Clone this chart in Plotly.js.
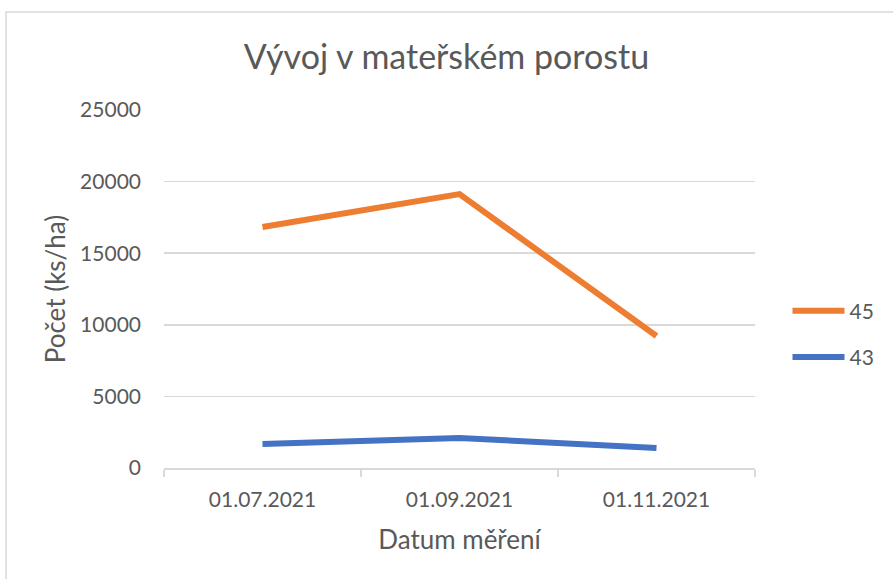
<!DOCTYPE html>
<html>
<head>
<meta charset="utf-8">
<script src="https://cdn.plot.ly/plotly-3.0.1.min.js"></script>
<style>html,body{margin:0;padding:0;background:#fff;}#chart{width:893px;height:579px;}</style>
</head>
<body>
<div id="chart"></div>
<script>
const categories = ["01.07.2021", "01.09.2021", "01.11.2021"];
const series45 = [16830, 19130, 9220];
const series43 = [1680, 2100, 1400];
const seriesNames = ["45", "43"];
const yTicks = [0, 5000, 10000, 15000, 20000, 25000];

const font = "Lato, 'Open Sans', sans-serif";
const grey = "#595959";

const traces = [
  {x: categories, y: series45, name: seriesNames[0], type: "scatter", mode: "lines",
   line: {color: "#ED7D31", width: 6}, legendgroup: "a"},
  {x: categories, y: series43, name: seriesNames[1], type: "scatter", mode: "lines",
   line: {color: "#4472C4", width: 6}, legendgroup: "b"}
];

const layout = {
  width: 893, height: 579,
  margin: {l: 164, r: 138, t: 110, b: 111},
  paper_bgcolor: "#ffffff", plot_bgcolor: "#ffffff",
  font: {family: font, color: grey, size: 21},
  title: {text: "Vývoj v mateřském porostu", font: {family: font, size: 34, color: grey},
          x: 0.5, xanchor: "center", y: 1 - 57/579, yanchor: "middle"},
  xaxis: {type: "category", range: [-0.5, 2.5], showgrid: false, showline: true, linecolor: "#d9d9d9", linewidth: 1.5,
          ticks: "outside", tickson: "boundaries", ticklen: 7, tickcolor: "#d9d9d9", tickwidth: 1.5,
          tickfont: {size: 21, color: grey}, ticklabelstandoff: 12,
          title: {text: "Datum měření", font: {size: 26, color: grey}, standoff: 21}},
  yaxis: {range: [0, 25000], tickvals: yTicks, ticktext: yTicks.map(String), showgrid: true,
          gridcolor: "#d9d9d9", gridwidth: 1.5, zeroline: false, showline: false, ticks: "",
          tickfont: {size: 21, color: grey}, ticklabelstandoff: 22,
          title: {text: "Počet (ks/ha)", font: {size: 26, color: grey}, standoff: 6}},
  showlegend: true,
  legend: {x: 1.055, xanchor: "left", y: 0.374, yanchor: "middle", traceorder: "grouped",
           tracegroupgap: 16, itemwidth: 52, font: {size: 21, color: grey}, bgcolor: "rgba(0,0,0,0)"},
  shapes: [{type: "rect", xref: "paper", yref: "paper",
            x0: (6 - 164) / 591, x1: 2, y0: -1, y1: 1 + (110 - 12) / 358,
            line: {color: "#d9d9d9", width: 1.5}, fillcolor: "rgba(0,0,0,0)", layer: "below"}]
};

Plotly.newPlot("chart", traces, layout, {displayModeBar: false, staticPlot: true});
</script>
</body>
</html>
